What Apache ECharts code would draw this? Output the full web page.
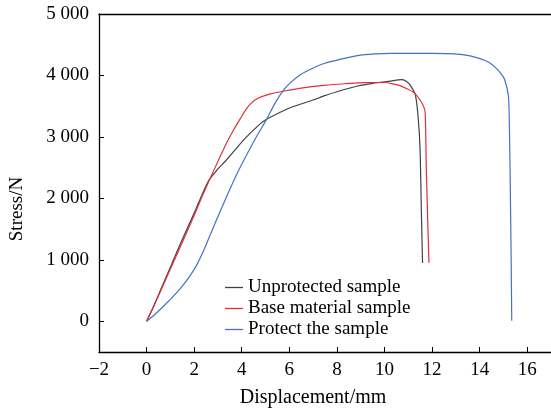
<!DOCTYPE html>
<html lang="en">
<head>
    <meta charset="UTF-8">
    <title>Stress - displacement</title>
    <script src="https://cdn.jsdelivr.net/npm/echarts@6/dist/echarts.min.js"></script>
    <style>
        html, body { margin: 0; padding: 0; background: #fff; }
    </style>
</head>
<body>
<div id="main" style="width:551px;height:413px;"></div>
<script type="text/javascript">
    // displacement (mm), stress (N) pairs
    var unprotected = [
        [0, 0], [0.3, 250], [0.6, 520], [1.0, 880], [1.5, 1330], [2.0, 1760], [2.3, 2030],
        [2.6, 2280], [3.0, 2480], [3.3, 2600], [3.7, 2780], [4.15, 2980], [4.8, 3220],
        [5.08, 3295], [6.06, 3479], [7.0, 3600], [7.46, 3667], [8.0, 3735], [8.87, 3828],
        [9.5, 3872], [10.26, 3909], [10.7, 3932], [10.9, 3910], [11.1, 3830], [11.3, 3680],
        [11.42, 3300], [11.5, 2756], [11.55, 1800], [11.6, 950]
    ];
    var baseMaterial = [
        [0, 0], [0.3, 240], [0.6, 500], [1.0, 850], [1.5, 1280], [2.0, 1720], [2.3, 2000],
        [2.63, 2290], [3.05, 2645], [3.4, 2930], [3.68, 3129], [3.96, 3310], [4.2, 3460],
        [4.4, 3550], [4.66, 3624], [5.2, 3700], [5.78, 3747], [6.5, 3795], [7.46, 3839],
        [8.3, 3865], [9.14, 3882], [10.0, 3885], [10.68, 3830], [11.24, 3720], [11.6, 3532],
        [11.71, 3398], [11.76, 2435], [11.87, 950]
    ];
    var protectedSample = [
        [0, 0], [0.3, 95], [0.7, 240], [1.16, 420], [1.5, 570], [1.86, 760], [2.1, 910],
        [2.4, 1150], [2.7, 1430], [3.05, 1750], [3.4, 2060], [3.8, 2400], [4.17, 2680],
        [4.6, 2990], [5.05, 3290], [5.4, 3550], [5.78, 3774], [6.1, 3900], [6.48, 4016],
        [7.0, 4120], [7.46, 4194], [8.17, 4265], [8.87, 4323], [9.6, 4350], [10.26, 4360],
        [11.0, 4360], [12.0, 4358], [12.92, 4350], [13.6, 4320], [14.05, 4270], [14.4, 4210],
        [14.68, 4124], [14.9, 4030], [15.05, 3935], [15.21, 3667], [15.25, 3200], [15.28, 2430],
        [15.32, 1200], [15.35, 10]
    ];
    var seriesNames = ['Unprotected sample', 'Base material sample', 'Protect the sample'];
    var seriesColors = ['#404040', '#e0303c', '#4472c4'];
    var xTicks = [-2, 0, 2, 4, 6, 8, 10, 12, 14, 16];
    var yTicks = [0, 1000, 2000, 3000, 4000, 5000];
    var yTickLabels = ['0', '1 000', '2 000', '3 000', '4 000', '5 000'];

    var font = 'Liberation Serif';
    var myChart = echarts.init(document.getElementById('main'));

    function makeSeries(i, data) {
        return {
            name: seriesNames[i],
            type: 'line',
            data: data,
            symbol: 'none',
            smooth: 0.2,
            lineStyle: { color: seriesColors[i], width: 1.2 },
            itemStyle: { color: seriesColors[i] }
        };
    }

    var option = {
        animation: false,
        backgroundColor: '#fff',
        textStyle: { fontFamily: font, color: '#000' },
        grid: { left: 97, right: 0, top: 14, bottom: 59 },
        legend: {
            orient: 'vertical',
            left: 220,
            top: 273,
            icon: 'rect',
            itemWidth: 18,
            itemHeight: 1.3,
            itemGap: 2,
            data: seriesNames,
            textStyle: { fontFamily: font, fontSize: 19, color: '#000' }
        },
        xAxis: [{
            type: 'value',
            min: -2,
            max: 17,
            interval: 2,
            name: 'Displacement/mm',
            nameLocation: 'middle',
            nameGap: 36,
            nameTextStyle: { fontFamily: font, fontSize: 20, color: '#000', padding: [0, 24, 0, 0] },
            axisLine: { show: true, onZero: false, lineStyle: { color: '#000', width: 1.3 } },
            axisTick: { show: true, inside: true, length: 5, customValues: xTicks, lineStyle: { color: '#000' } },
            axisLabel: {
                customValues: xTicks,
                fontFamily: font, fontSize: 19, color: '#000', margin: 9,
                formatter: function (v) { return v < 0 ? '\u2212' + Math.abs(v) : String(v); }
            },
            splitLine: { show: false }
        }, {
            type: 'value',
            position: 'top',
            min: -2,
            max: 17,
            axisLine: { show: true, onZero: false, lineStyle: { color: '#000', width: 1.3 } },
            axisTick: { show: false },
            axisLabel: { show: false },
            splitLine: { show: false }
        }],
        yAxis: {
            type: 'value',
            min: -500,
            max: 5000,
            name: 'Stress/N',
            nameLocation: 'middle',
            nameGap: 72,
            nameTextStyle: { fontFamily: font, fontSize: 19, color: '#000', padding: [0, 52, 0, 0] },
            axisLine: { show: true, onZero: false, lineStyle: { color: '#000', width: 1.3 } },
            axisTick: { show: true, inside: true, length: 5, customValues: yTicks, lineStyle: { color: '#000' } },
            axisLabel: {
                customValues: yTicks,
                fontFamily: font, fontSize: 19, color: '#000', margin: 10,
                formatter: function (v) { return yTickLabels[yTicks.indexOf(v)]; }
            },
            splitLine: { show: false }
        },
        series: [
            makeSeries(0, unprotected),
            makeSeries(1, baseMaterial),
            makeSeries(2, protectedSample)
        ]
    };
    myChart.setOption(option);
</script>
</body>
</html>
